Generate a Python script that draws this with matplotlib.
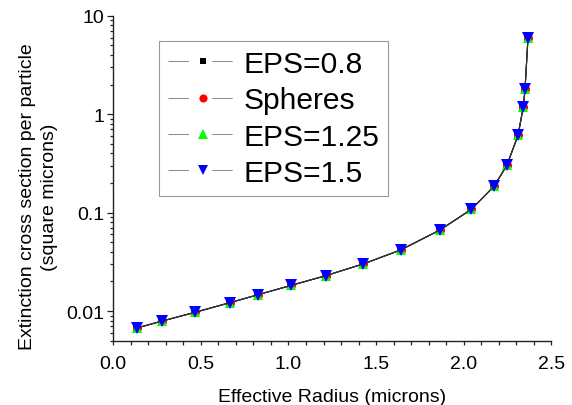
import matplotlib
matplotlib.use("Agg")
import matplotlib.pyplot as plt
from matplotlib.lines import Line2D
from matplotlib.ticker import LogLocator, MultipleLocator, FixedLocator, FixedFormatter

plt.rcParams['font.family'] = ['Liberation Sans', 'DejaVu Sans']

radius = [0.134, 0.278, 0.465, 0.664, 0.826, 1.014, 1.212, 1.427, 1.640,
          1.865, 2.043, 2.173, 2.247, 2.310, 2.340, 2.350, 2.367]
eps_08 = [0.00672, 0.00791, 0.00969, 0.01214, 0.01465, 0.0182, 0.02285, 0.0301,
          0.0417, 0.0666, 0.1077, 0.1845, 0.304, 0.608, 1.18, 1.78, 5.96]
spheres = list(eps_08)
eps_125 = list(eps_08)
eps_15 = list(eps_08)

labels = ["EPS=0.8", "Spheres", "EPS=1.25", "EPS=1.5"]
series = [eps_08, spheres, eps_125, eps_15]
markers = ["s", "o", "^", "v"]
colors = ["black", "red", "#00ff00", "blue"]
msizes = [5.5, 6.5, 7.5, 8.5]

fig = plt.figure(figsize=(5.72, 4.06), dpi=100)
ax = fig.add_axes([0.198, 0.1584, 0.7658, 0.8005])

for ys, m, c, ms in zip(series, markers, colors, msizes):
    ax.plot(radius, ys, color="#333333", lw=0.8, marker=m, markersize=ms,
            markerfacecolor=c, markeredgecolor=c, markeredgewidth=0)

ax.set_yscale("log")
ax.set_xlim(0, 2.5)
ax.set_ylim(0.005, 10)
ax.xaxis.set_major_locator(MultipleLocator(0.5))
ax.xaxis.set_minor_locator(MultipleLocator(0.1))
ax.xaxis.set_major_formatter(matplotlib.ticker.FormatStrFormatter("%.1f"))
ax.yaxis.set_major_locator(FixedLocator([0.01, 0.1, 1, 10]))
ax.yaxis.set_major_formatter(FixedFormatter(["0.01", "0.1", "1", "10"]))
ax.yaxis.set_minor_locator(LogLocator(base=10, subs=range(2, 10)))
ax.yaxis.set_minor_formatter(matplotlib.ticker.NullFormatter())

for s in ["top", "right"]:
    ax.spines[s].set_visible(False)
for s in ["left", "bottom"]:
    ax.spines[s].set_linewidth(1.0)
    ax.spines[s].set_color("#222222")

ax.tick_params(axis="x", which="both", direction="out", length=3, width=0.9,
               labelsize=14, pad=7, color="#222222")
ax.tick_params(axis="y", which="major", direction="out", length=4.5, width=0.9,
               labelsize=14, pad=2, color="#222222")
ax.tick_params(axis="y", which="minor", direction="out", length=2.3, width=0.9,
               color="#222222")

ax.set_xlabel("Effective Radius (microns)", fontsize=14, labelpad=11.5)
ax.set_ylabel("Extinction cross section per particle\n(square microns)",
              fontsize=14, labelpad=6, linespacing=1.4)
ax.yaxis.label.set_y(0.445)

handles = []
for lab, m, c, ms in zip(labels, markers, colors, msizes):
    handles.append(Line2D([], [], color="#888888", lw=0.7, linestyle=(0, (21, 24)),
                          marker=m, markersize=ms * 0.9, markerfacecolor=c,
                          markeredgecolor=c, markeredgewidth=0, label=lab))
leg = ax.legend(handles=handles, loc="upper left",
                bbox_to_anchor=(159.3 / 572, 1 - 41.7 / 406),
                bbox_transform=fig.transFigure, borderaxespad=0,
                fontsize=21.6, frameon=True, fancybox=False, framealpha=1,
                edgecolor="#999999", numpoints=1, handlelength=2.3,
                handletextpad=0.2, labelspacing=0.28, borderpad=0.3)
leg.get_frame().set_linewidth(0.8)

fig.savefig("out.png", dpi=100)
